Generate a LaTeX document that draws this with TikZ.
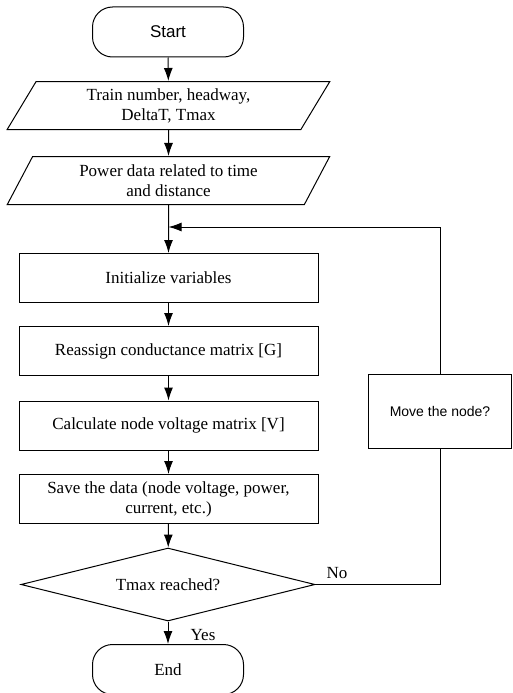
\documentclass[tikz,border=0pt]{standalone}
\usepackage{fontspec}
\setmainfont{Liberation Serif}
\setsansfont{Liberation Sans}
\usetikzlibrary{shapes.geometric,arrows.meta,calc}

\begin{document}
\begin{tikzpicture}[
  x=1pt,
  y=-1pt,
  line width=1pt,
  font=\fontsize{17}{20}\selectfont
]

  \tikzstyle{termnode}=[draw,rectangle,rounded corners=20pt,minimum width=151pt,minimum height=50pt,inner sep=0pt]
  \tikzstyle{ionode}=[draw,trapezium,trapezium left angle=62.5,trapezium right angle=117.5,trapezium stretches=true,minimum width=323pt,minimum height=48pt,inner sep=0pt,align=center]
  \tikzstyle{procnode}=[draw,rectangle,minimum width=299pt,minimum height=49pt,inner sep=0pt,align=center]
  \tikzstyle{decnode}=[draw,diamond,aspect=4,minimum width=294pt,minimum height=73pt,inner sep=0pt]
  \tikzstyle{sidenode}=[draw,rectangle,minimum width=143pt,minimum height=74pt,inner sep=0pt,font=\sffamily\fontsize{14}{17}\selectfont]

  \tikzstyle{pointer}=[draw,-{Latex[length=13pt,width=9pt]}]
  \tikzstyle{line}=[draw]

  \useasboundingbox (0,0) rectangle (513,693);

  % nodes
  \node[termnode,font=\sffamily\fontsize{17}{20}\selectfont] (start) at (168,32) {Start};
  \node[ionode] (train) at (168.5,105.5) {Train number, headway,\\DeltaT, Tmax};
  \node[ionode] (power) at (168.5,180.5) {Power data related to time\\and distance};
  \node[procnode] (init) at (168.5,278) {Initialize variables};
  \node[procnode] (reassign) at (168.5,351) {Reassign conductance matrix [G]};
  \node[procnode] (calc) at (168.5,425.5) {Calculate node voltage matrix [V]};
  \node[procnode] (save) at (168.5,499) {Save the data (node voltage, power,\\current, etc.)};
  \node[decnode] (dec) at (168,584.5) {Tmax reached?};
  \node[termnode] (end) at (168,669.5) {End};
  \node[sidenode] (move) at (440,411) {Move the node?};

  \node (nolab) at (337,573) {No};
  \node (yeslab) at (203,635) {Yes};

  \coordinate (loopin) at (168.5,227);

  % pointers
  \draw[pointer] (start) -- (train);
  \draw[pointer] (train) -- (power);
  \draw[pointer] (power) -- (init);
  \draw[pointer] (init) -- (reassign);
  \draw[pointer] (reassign) -- (calc);
  \draw[pointer] (calc) -- (save);
  \draw[pointer] (save) -- (dec);
  \draw[pointer] (dec) -- (end);

  \draw[line] (dec.east) -| (move.south);
  \draw[pointer] (move.north) |- (loopin);

\end{tikzpicture}
\end{document}
